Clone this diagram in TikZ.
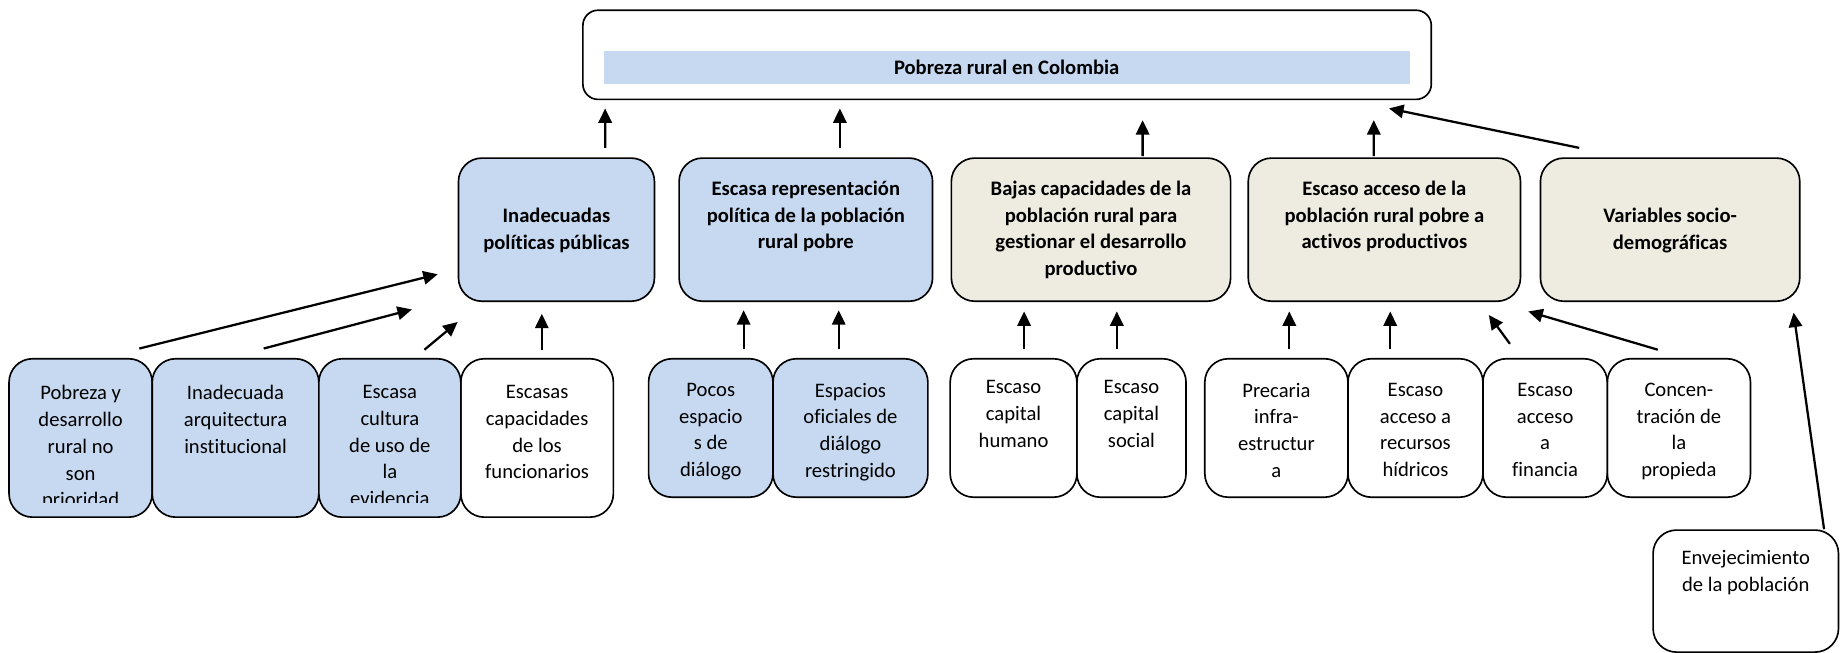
\documentclass[tikz,border=0pt]{standalone}
\usepackage{fontspec}
\setmainfont{Carlito}[Ligatures=NoCommon]
\usepackage{xcolor}
\usepackage{tikz}
\usetikzlibrary{arrows.meta, positioning}

\definecolor{azul}{RGB}{198,217,241}
\definecolor{crema}{RGB}{238,236,225}

\tikzset{
  caja/.style={draw, line width=0.8pt, rounded corners=0.4cm, anchor=north west, inner sep=0pt},
  causa/.style={font=\fontsize{10}{12.9}\selectfont\bfseries, align=center, inner sep=0pt, execute at begin node=\strut},
  texto/.style={font=\fontsize{10}{13}\selectfont, align=center, inner sep=0pt, execute at begin node=\strut},
  flecha/.style={line width=1.1pt, -{Triangle[length=7pt,width=6.5pt]}}
}

\begin{document}
\begin{tikzpicture}[x=0.02cm, y=-0.02cm]
      \def\uu{0.02cm}
      \def\hm{122*\uu}
      \useasboundingbox (0,0) rectangle (1568,556);

      \node[caja, rounded corners=0.26cm, minimum width=723*\uu, minimum height=76*\uu] (pobreza) at (496,8) {};
      \node[fill=azul, anchor=north west, inner sep=0pt, minimum width=687*\uu, minimum height=28*\uu, font=\fontsize{10}{12}\selectfont\bfseries] (titulo) at (514,43) {Pobreza rural en Colombia};

      \node[caja, fill=azul, minimum width=167*\uu, minimum height=\hm] (politicas) at (390,134) {};
      \node[caja, fill=azul, minimum width=216*\uu, minimum height=\hm] (representacion) at (578,134) {};
      \node[caja, fill=crema, minimum width=238*\uu, minimum height=\hm] (capacidades) at (810,134) {};
      \node[caja, fill=crema, minimum width=232*\uu, minimum height=\hm] (activos) at (1063,134) {};
      \node[caja, fill=crema, minimum width=221*\uu, minimum height=\hm] (variables) at (1312,134) {};

      \node[causa, below=0.86cm of politicas.north] (politicast) {Inadecuadas\\políticas públicas};
      \node[causa, below=0.4cm of representacion.north] (representaciont) {Escasa representación\\política de la población\\rural pobre};
      \node[causa, below=0.4cm of capacidades.north] (capacidadest) {Bajas capacidades de la\\población rural para\\gestionar el desarrollo\\productivo};
      \node[causa, below=0.4cm of activos.north] (activost) {Escaso acceso de la\\población rural pobre a\\activos productivos};
      \node[causa, below=0.86cm of variables.north] (variablest) {Variables socio-\\demográficas};

      \node[caja, fill=azul, minimum width=122*\uu, minimum height=135*\uu] (prioridad) at (7,305) {};
      \node[caja, fill=azul, minimum width=142*\uu, minimum height=135*\uu] (arquitectura) at (129,305) {};
      \node[caja, fill=azul, minimum width=121*\uu, minimum height=135*\uu] (cultura) at (271,305) {};
      \node[caja, minimum width=130*\uu, minimum height=135*\uu] (funcionarios) at (392,305) {};

      \begin{scope}
        \clip (prioridad.north west) rectangle ([shift={(0,-13)}]funcionarios.south east);
        \node[texto, below=0.46cm of prioridad.north] (prioridadt) {Pobreza y\\desarrollo\\rural no\\son\\prioridad};
        \node[texto, below=0.46cm of arquitectura.north] (arquitecturat) {Inadecuada\\arquitectura\\institucional};
        \node[texto, below=0.46cm of cultura.north] (culturat) {Escasa\\cultura\\de uso de\\la\\evidencia};
        \node[texto, below=0.46cm of funcionarios.north] (funcionariost) {Escasas\\capacidades\\de los\\funcionarios};
      \end{scope}

      \node[caja, fill=azul, minimum width=106*\uu, minimum height=118*\uu] (pocos) at (552,305) {};
      \node[caja, fill=azul, minimum width=132*\uu, minimum height=118*\uu] (oficiales) at (658,305) {};
      \node[caja, minimum width=108*\uu, minimum height=118*\uu] (humano) at (809,305) {};
      \node[caja, minimum width=93*\uu, minimum height=118*\uu] (social) at (917,305) {};
      \node[caja, minimum width=122*\uu, minimum height=118*\uu] (infra) at (1026,305) {};
      \node[caja, minimum width=115*\uu, minimum height=118*\uu] (hidricos) at (1148,305) {};
      \node[caja, minimum width=106*\uu, minimum height=118*\uu] (financia) at (1263,305) {};
      \node[caja, minimum width=122*\uu, minimum height=118*\uu] (propiedad) at (1369,305) {};
      \node[caja, minimum width=158*\uu, minimum height=104*\uu] (envejecimiento) at (1408,451) {};

      \node[texto, below=0.42cm of pocos.north] (pocost) {Pocos\\espacio\\s de\\diálogo};
      \node[texto, below=0.42cm of oficiales.north] (oficialest) {Espacios\\oficiales de\\diálogo\\restringido};
      \node[texto, below=0.38cm of humano.north] (humanot) {Escaso\\capital\\humano};
      \node[texto, below=0.38cm of social.north] (socialt) {Escaso\\capital\\social};
      \node[texto, below=0.42cm of infra.north] (infrat) {Precaria\\infra-\\estructur\\a};
      \node[texto, below=0.42cm of hidricos.north] (hidricost) {Escaso\\acceso a\\recursos\\hídricos};
      \node[texto, below=0.42cm of financia.north] (financiat) {Escaso\\acceso\\a\\financia};
      \node[texto, below=0.42cm of propiedad.north] (propiedadt) {Concen-\\tración de\\la\\propieda};
      \node[texto, below=0.36cm of envejecimiento.north] (envejecimientot) {Envejecimiento\\de la población};

      \draw[flecha] ([shift={(41.5,-8)}]politicas.north) -- ([shift={(-342.5,7)}]pobreza.south);
      \draw[flecha] ([shift={(29,-8)}]representacion.north) -- ([shift={(-142.5,7)}]pobreza.south);
      \draw[flecha] ([shift={(44,-1)}]capacidades.north) -- ([shift={(115.5,17)}]pobreza.south);
      \draw[flecha] ([shift={(-9,-1)}]activos.north) -- ([shift={(312.5,17)}]pobreza.south);
      \draw[flecha] ([shift={(-77.5,-8)}]variables.north) -- ([shift={(325.5,7)}]pobreza.south);

      \draw[flecha] ([shift={(50,-8)}]prioridad.north) -- ([shift={(-17,38)}]politicas.west);
      \draw[flecha] ([shift={(24,-8)}]arquitectura.north) -- ([shift={(-39,68)}]politicas.west);
      \draw[flecha] ([shift={(29.5,-7)}]cultura.north) -- ([shift={(0,17)}]politicas.south west);
      \draw[flecha] ([shift={(4,-7)}]funcionarios.north) -- ([shift={(-12.5,10)}]politicas.south);
      \draw[flecha] ([shift={(28,-8)}]pocos.north) -- ([shift={(-53,7)}]representacion.south);
      \draw[flecha] ([shift={(-10,-8)}]oficiales.north) -- ([shift={(28,7)}]representacion.south);
      \draw[flecha] ([shift={(9,-8)}]humano.north) -- ([shift={(-57,8)}]capacidades.south);
      \draw[flecha] ([shift={(-12.5,-8)}]social.north) -- ([shift={(22,8)}]capacidades.south);
      \draw[flecha] ([shift={(11,-8)}]infra.north) -- ([shift={(-81,8)}]activos.south);
      \draw[flecha] ([shift={(-21.5,-8)}]hidricos.north) -- ([shift={(5,8)}]activos.south);
      \draw[flecha] ([shift={(-30,-12)}]financia.north) -- ([shift={(89,11)}]activos.south);
      \draw[flecha] ([shift={(-18,-7)}]propiedad.north) -- ([shift={(6,8)}]activos.south east);
      \draw[flecha] ([shift={(-13,0)}]envejecimiento.north east) -- ([shift={(-6,9)}]variables.south east);
\end{tikzpicture}
\end{document}
